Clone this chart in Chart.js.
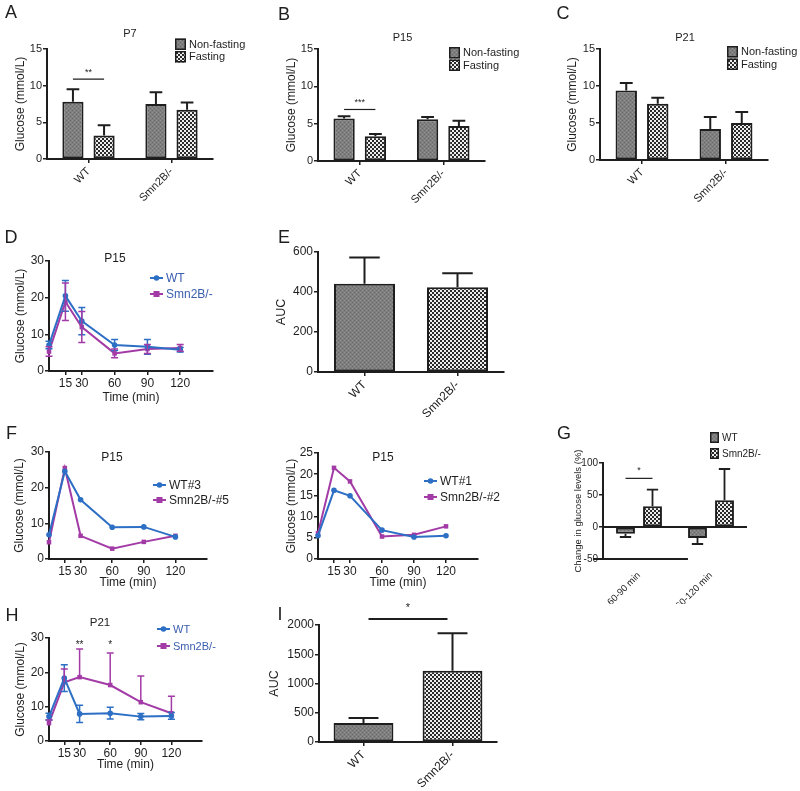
<!DOCTYPE html>
<html><head><meta charset="utf-8">
<script src="https://cdn.jsdelivr.net/npm/chart.js@4.4.1/dist/chart.umd.min.js"></script>
<style>
html,body{margin:0;padding:0;background:#fff;}
#wrap{position:relative;width:800px;height:791px;overflow:hidden;background:#fff;}
#wrap canvas{position:absolute;left:0;top:0;}
</style></head>
<body><div id="wrap"></div>
<script>
// ---------------- DATA ----------------
const groups = ['WT', 'Smn2B/-'];
const conditions = ['Non-fasting', 'Fasting'];
// A: P7
const p7NonFasting = [7.8, 7.5];
const p7NonFastingSem = [1.7, 1.6];
const p7Fasting = [3.2, 6.7];
const p7FastingSem = [1.4, 1.0];
const p7Sig = {y: 10.9, label: '**'};
// B: P15
const p15NonFasting = [5.7, 5.6];
const p15NonFastingSem = [0.3, 0.3];
const p15Fasting = [3.3, 4.7];
const p15FastingSem = [0.3, 0.7];
const p15Sig = {y: 6.9, label: '***'};
// C: P21
const p21NonFasting = [9.4, 4.2];
const p21NonFastingSem = [1.0, 1.6];
const p21Fasting = [7.6, 5.0];
const p21FastingSem = [0.8, 1.5];
// D: P15 GTT means
const timeMin = [0, 15, 30, 60, 90, 120];
const timeTicks = [15, 30, 60, 90, 120];
const gttP15WT = [7.1, 20.5, 13.6, 7.1, 6.6, 5.8];
const gttP15WTSem = [1.0, 4.2, 3.7, 1.5, 2.0, 0.6];
const gttP15Smn = [5.3, 18.9, 12.0, 4.8, 6.0, 6.3];
const gttP15SmnSem = [1.3, 5.1, 4.2, 1.2, 1.2, 0.9];
// E: AUC P15
const aucP15 = [441, 424];
const aucP15Sem = [132, 70];
// F: individual P15 animals
const gttWT3 = [6.8, 24.6, 16.6, 8.9, 9.0, 6.2];
const gttSmn5 = [4.7, 25.5, 6.5, 2.9, 4.8, 6.5];
const gttWT1 = [5.5, 16.2, 14.9, 6.8, 5.2, 5.5];
const gttSmn2 = [6.1, 21.5, 18.3, 5.3, 5.7, 7.7];
// G: change in glucose levels
const changeWindows = ['60-90 min', '60-120 min'];
const changeWT = [-10.4, -17.2];
const changeWTSem = [5.2, 9.4];
const changeSmn = [32.3, 41.7];
const changeSmnSem = [26.0, 48.9];
const changeSig = {y: 76, label: '*'};
// H: P21 GTT means
const gttP21WT = [7.1, 18.3, 7.9, 8.1, 7.1, 7.3];
const gttP21WTSem = [1.0, 3.9, 2.5, 1.7, 0.9, 1.0];
const gttP21Smn = [5.2, 17.1, 18.6, 16.3, 11.3, 8.1];
const gttP21SmnSem = [0.9, 3.9, 8.2, 9.3, 7.6, 4.9];
const gttP21Stars = [{t: 30, y: 28, label: '**'}, {t: 60, y: 28, label: '*'}];
// I: AUC P21
const aucP21 = [324, 1216];
const aucP21Sem = [85, 642];
const aucP21Sig = {y: 2102, label: '*'};

// ---------------- STYLE ----------------
const FONT = "'Liberation Sans', Arial, Helvetica, sans-serif";
Chart.defaults.font.family = FONT;
Chart.defaults.color = '#1e1e1e';
Chart.defaults.animation = false;
Chart.defaults.responsive = false;
Chart.defaults.plugins.legend.display = false;
Chart.defaults.plugins.tooltip.enabled = false;
const INK = '#1e1e1e';
const BLUE = '#2d6fc4';
const PURPLE = '#a33ba6';
const LEGBLUE = '#3a5eae';
const W_ = 800, H_ = 791;
const wrap = document.getElementById('wrap');

function newCtx() {
  const c = document.createElement('canvas');
  c.width = W_; c.height = H_;
  c.style.width = W_ + 'px'; c.style.height = H_ + 'px';
  wrap.appendChild(c);
  return c.getContext('2d');
}
function makePattern(ctx, kind) {
  const c = document.createElement('canvas');
  c.width = 4; c.height = 4;
  const g = c.getContext('2d');
  if (kind === 'check') {
    g.fillStyle = '#eeeeee'; g.fillRect(0, 0, 4, 4);
    g.fillStyle = '#2a2a2a'; g.fillRect(0, 0, 2, 2); g.fillRect(2, 2, 2, 2);
  } else {
    g.fillStyle = '#7e7e7e'; g.fillRect(0, 0, 4, 4);
    g.fillStyle = '#939393'; g.fillRect(0, 0, 1, 1); g.fillRect(2, 2, 1, 1);
    g.fillStyle = '#6a6a6a'; g.fillRect(2, 0, 1, 1); g.fillRect(0, 2, 1, 1);
  }
  return ctx.createPattern(c, 'repeat');
}
function layoutFor(area, titleCx, tsize, xH) {
  const left = titleCx - tsize * 1.2 / 2;
  return {padding: {left: left, top: area.t, right: W_ - area.r, bottom: H_ - area.b - xH}, W: area.l - left};
}
function yScale(o) {
  return {
    min: o.min, max: o.max,
    ticks: {stepSize: o.step, font: {size: o.tick || 11}, padding: 1, color: INK, callback: v => String(v)},
    grid: {display: true, drawOnChartArea: false, tickLength: 4, color: INK, lineWidth: 1.5},
    border: {display: true, color: INK, width: 2},
    title: {display: true, text: o.title, font: {size: o.tsize || 12}, padding: 0, color: INK},
    afterFit: s => { s.width = o.W; }
  };
}
function catScale(o) {
  return {
    offset: true,
    ticks: {font: {size: o.tick || 11}, padding: o.pad == null ? 2 : o.pad, color: INK, minRotation: 45, maxRotation: 45, autoSkip: false},
    grid: {display: o.grid !== false, drawOnChartArea: false, offset: false, tickLength: 4, color: INK, lineWidth: 1.5},
    border: {display: o.border !== false, color: INK, width: 2},
    afterFit: s => { s.height = o.H; }
  };
}
function timeScale(xH) {
  return {
    type: 'linear', min: 0, max: 150,
    afterBuildTicks: s => { s.ticks = timeTicks.map(v => ({value: v})); },
    ticks: {font: {size: 12}, padding: 1, color: INK, maxRotation: 0, autoSkip: false, callback: v => String(v)},
    grid: {display: true, drawOnChartArea: false, tickLength: 4, color: INK, lineWidth: 1.5},
    border: {display: true, color: INK, width: 2},
    title: {display: true, text: 'Time (min)', font: {size: 12}, padding: 0, color: INK},
    afterFit: s => { s.height = xH; }
  };
}
function text(ctx, t, x, y, size, color, align) {
  ctx.save();
  ctx.font = size + 'px ' + FONT;
  ctx.fillStyle = color || INK;
  ctx.textAlign = align || 'center';
  ctx.textBaseline = 'middle';
  ctx.fillText(t, x, y);
  ctx.restore();
}
function barLegend(ctx, x, y, bw, bh, gap, size, items) {
  items.forEach((it, i) => {
    const yy = y + i * (bh + gap);
    ctx.save();
    ctx.fillStyle = it.fill; ctx.fillRect(x, yy, bw, bh);
    ctx.strokeStyle = INK; ctx.lineWidth = 1.5; ctx.strokeRect(x + 0.75, yy + 0.75, bw - 1.5, bh - 1.5);
    ctx.restore();
    text(ctx, it.label, x + bw + 3, yy + bh / 2 + 0.5, size, INK, 'left');
  });
}
function lineLegend(ctx, x, y, len, dy, size, tcolor, items) {
  items.forEach((it, i) => {
    const yy = y + i * dy;
    ctx.save();
    ctx.strokeStyle = it.color; ctx.fillStyle = it.color; ctx.lineWidth = 2;
    ctx.beginPath(); ctx.moveTo(x, yy); ctx.lineTo(x + len, yy); ctx.stroke();
    const cx = x + len / 2;
    if (it.style === 'rect') ctx.fillRect(cx - 3, yy - 3, 6, 6);
    else { ctx.beginPath(); ctx.arc(cx, yy, 2.8, 0, Math.PI * 2); ctx.fill(); }
    ctx.restore();
    text(ctx, it.label, x + len + 3, yy + 0.5, size, tcolor, 'left');
  });
}
function barErrors(ctx, chart, dsi, errs, capFrac, lw) {
  const meta = chart.getDatasetMeta(dsi);
  const ys = chart.scales.y;
  const vals = chart.data.datasets[dsi].data;
  ctx.save();
  ctx.strokeStyle = INK; ctx.lineWidth = lw || 2;
  meta.data.forEach((bar, i) => {
    const v = vals[i], e = errs[i];
    const end = v + (v < 0 ? -e : e);
    const y0 = ys.getPixelForValue(v), y1 = ys.getPixelForValue(end);
    const cap = bar.width * capFrac / 2;
    ctx.beginPath();
    ctx.moveTo(bar.x, y0); ctx.lineTo(bar.x, y1);
    ctx.moveTo(bar.x - cap, y1); ctx.lineTo(bar.x + cap, y1);
    ctx.stroke();
  });
  ctx.restore();
}
function lineErrors(ctx, chart, dsi, errs, mode, color, cap) {
  const meta = chart.getDatasetMeta(dsi);
  const ys = chart.scales.y;
  const pts = chart.data.datasets[dsi].data;
  ctx.save();
  ctx.strokeStyle = color; ctx.lineWidth = 1.5;
  meta.data.forEach((p, i) => {
    const v = pts[i].y, e = errs[i];
    const yT = ys.getPixelForValue(v + e);
    const yB = ys.getPixelForValue(mode === 'up' ? v : v - e);
    ctx.beginPath();
    ctx.moveTo(p.x, yT); ctx.lineTo(p.x, yB);
    ctx.moveTo(p.x - cap, yT); ctx.lineTo(p.x + cap, yT);
    if (mode !== 'up') { ctx.moveTo(p.x - cap, yB); ctx.lineTo(p.x + cap, yB); }
    ctx.stroke();
  });
  ctx.restore();
}
function sigLine(ctx, chart, a, b, sig, lw, starOff, starSize, inset) {
  const xa = chart.getDatasetMeta(a[0]).data[a[1]].x + (inset || 0);
  const xb = chart.getDatasetMeta(b[0]).data[b[1]].x - (inset || 0);
  const y = chart.scales.y.getPixelForValue(sig.y);
  ctx.save();
  ctx.strokeStyle = INK; ctx.lineWidth = lw;
  ctx.beginPath(); ctx.moveTo(xa, y); ctx.lineTo(xb, y); ctx.stroke();
  ctx.restore();
  text(ctx, sig.label, (xa + xb) / 2, y - starOff, starSize, INK);
}
function deco(draw) {
  return [{id: 'deco', afterDatasetsDraw(chart) { const ctx = chart.ctx; ctx.save(); draw(ctx, chart); ctx.restore(); }}];
}
function series(label, ys, color, style) {
  return {
    label: label,
    data: timeMin.map((t, i) => ({x: t, y: ys[i]})),
    borderColor: color, backgroundColor: color,
    pointBackgroundColor: color, pointBorderColor: color,
    pointStyle: style, pointRadius: style === 'rect' ? 3.2 : 2.8, pointBorderWidth: 0,
    borderWidth: 2, clip: false, tension: 0
  };
}

// ---------------- PANEL A/B/C: fasting bars ----------------
function fastingPanel(area, titleCx, nf, nfSem, f, fSem, title, titlePos, letter, letterPos, legPos, sig) {
  const ctx = newCtx();
  const gray = makePattern(ctx, 'gray'), check = makePattern(ctx, 'check');
  const L = layoutFor(area, titleCx, 12, 45);
  new Chart(ctx, {
    type: 'bar',
    data: {
      labels: groups,
      datasets: [
        {label: conditions[0], data: nf, backgroundColor: gray, borderColor: INK, borderWidth: 2, borderSkipped: false, categoryPercentage: 0.75, barPercentage: 0.68},
        {label: conditions[1], data: f, backgroundColor: check, borderColor: INK, borderWidth: 2, borderSkipped: false, categoryPercentage: 0.75, barPercentage: 0.68}
      ]
    },
    options: {
      layout: {padding: L.padding},
      scales: {
        x: catScale({H: 45, tick: 11}),
        y: yScale({min: 0, max: 15, step: 5, title: 'Glucose (mmol/L)', W: L.W, tick: 11, tsize: 12})
      }
    },
    plugins: deco((c, chart) => {
      barErrors(c, chart, 0, nfSem, 0.6, 2);
      barErrors(c, chart, 1, fSem, 0.6, 2);
      if (sig) sigLine(c, chart, [0, 0], [1, 0], sig, 1.2, 7, 9);
      text(c, title, titlePos[0], titlePos[1], 11, INK);
      text(c, letter, letterPos[0], letterPos[1], 18, INK);
      barLegend(c, legPos[0], legPos[1], 11, 11.5, 1, 11, [{fill: gray, label: conditions[0]}, {fill: check, label: conditions[1]}]);
    })
  });
}
fastingPanel({l: 47, t: 49, r: 213, b: 159}, 20.5, p7NonFasting, p7NonFastingSem, p7Fasting, p7FastingSem,
  'P7', [130, 33.5], 'A', [11, 13.5], [175, 38.5], p7Sig);
fastingPanel({l: 318, t: 49, r: 485, b: 161}, 292, p15NonFasting, p15NonFastingSem, p15Fasting, p15FastingSem,
  'P15', [402.5, 37.5], 'B', [284, 15], [449, 47], p15Sig);
fastingPanel({l: 600, t: 49, r: 768, b: 160}, 573, p21NonFasting, p21NonFastingSem, p21Fasting, p21FastingSem,
  'P21', [685, 37.5], 'C', [563, 14.5], [727, 46], null);

// ---------------- GTT line panels ----------------
function gttPanel(o) {
  const ctx = newCtx();
  const xH = o.xH || 31.2;
  const L = layoutFor(o.area, o.titleCx, 12, xH);
  new Chart(ctx, {
    type: 'line',
    data: {datasets: [series(o.names[0], o.wt, BLUE, 'circle'), series(o.names[1], o.smn, PURPLE, 'rect')]},
    options: {
      layout: {padding: L.padding},
      scales: {
        x: timeScale(xH),
        y: yScale({min: 0, max: o.ymax, step: o.ystep, title: 'Glucose (mmol/L)', W: L.W, tick: 12, tsize: 12})
      }
    },
    plugins: deco((c, chart) => {
      if (o.wtSem) lineErrors(c, chart, 0, o.wtSem, 'both', BLUE, 3.5);
      if (o.smnSem) lineErrors(c, chart, 1, o.smnSem, o.smnMode || 'both', PURPLE, 3.5);
      if (o.stars) o.stars.forEach(s => text(c, s.label, chart.scales.x.getPixelForValue(s.t), chart.scales.y.getPixelForValue(s.y), 10, INK));
      text(c, o.title, o.titlePos[0], o.titlePos[1], o.titleSize || 12, INK);
      if (o.letter) text(c, o.letter, o.letterPos[0], o.letterPos[1], 18, INK);
      lineLegend(c, o.leg[0], o.leg[1], 13, o.leg[2], o.legSize, o.legColor,
        [{color: BLUE, style: 'circle', label: o.names[0]}, {color: PURPLE, style: 'rect', label: o.names[1]}]);
    })
  });
}
gttPanel({area: {l: 49, t: 261, r: 213, b: 371}, titleCx: 20.5, ymax: 30, ystep: 10, xH: 34,
  wt: gttP15WT, smn: gttP15Smn, wtSem: gttP15WTSem, smnSem: gttP15SmnSem, names: ['WT', 'Smn2B/-'],
  title: 'P15', titlePos: [115, 259], letter: 'D', letterPos: [11, 238.5],
  leg: [150, 278, 16], legSize: 12, legColor: LEGBLUE});
gttPanel({area: {l: 49, t: 452, r: 207, b: 559}, titleCx: 20, ymax: 30, ystep: 10,
  wt: gttWT3, smn: gttSmn5, names: ['WT#3', 'Smn2B/-#5'],
  title: 'P15', titlePos: [112, 457.5], letter: 'F', letterPos: [11.5, 434],
  leg: [153, 485, 15], legSize: 12, legColor: INK});
gttPanel({area: {l: 318, t: 453, r: 478, b: 559}, titleCx: 292, ymax: 25, ystep: 5,
  wt: gttWT1, smn: gttSmn2, names: ['WT#1', 'Smn2B/-#2'],
  title: 'P15', titlePos: [383, 457.5],
  leg: [424, 481, 16], legSize: 12, legColor: INK});
gttPanel({area: {l: 49, t: 638, r: 202, b: 741}, titleCx: 21, ymax: 30, ystep: 10,
  wt: gttP21WT, smn: gttP21Smn, wtSem: gttP21WTSem, smnSem: gttP21SmnSem, smnMode: 'up', names: ['WT', 'Smn2B/-'],
  stars: gttP21Stars,
  title: 'P21', titlePos: [100, 623], titleSize: 11.5, letter: 'H', letterPos: [12, 616],
  leg: [157, 629, 17], legSize: 11, legColor: LEGBLUE});

// ---------------- AUC panels ----------------
function aucPanel(o) {
  const ctx = newCtx();
  const gray = makePattern(ctx, 'gray'), check = makePattern(ctx, 'check');
  const L = layoutFor(o.area, o.titleCx, 12.5, o.xH);
  new Chart(ctx, {
    type: 'bar',
    data: {labels: groups, datasets: [{label: 'AUC', data: o.vals, backgroundColor: [gray, check], borderColor: INK, borderWidth: 2, borderSkipped: false, categoryPercentage: 0.82, barPercentage: o.bp}]},
    options: {
      layout: {padding: L.padding},
      scales: {
        x: catScale({H: o.xH, tick: 12}),
        y: yScale({min: 0, max: o.ymax, step: o.ystep, title: 'AUC', W: L.W, tick: 12, tsize: 12.5})
      }
    },
    plugins: deco((c, chart) => {
      barErrors(c, chart, 0, o.sem, 0.5, 2);
      if (o.sig) sigLine(c, chart, [0, 0], [0, 1], o.sig, 2, 11, 11, 5);
      text(c, o.letter, o.letterPos[0], o.letterPos[1], 18, INK);
    })
  });
}
aucPanel({area: {l: 318, t: 252, r: 504, b: 372}, titleCx: 282, xH: 45, vals: aucP15, sem: aucP15Sem, ymax: 600, ystep: 200, bp: 0.8,
  letter: 'E', letterPos: [284, 238]});
aucPanel({area: {l: 319, t: 625, r: 497, b: 742}, titleCx: 274.5, xH: 48, vals: aucP21, sem: aucP21Sem, ymax: 2000, ystep: 500, bp: 0.82,
  sig: aucP21Sig, letter: 'I', letterPos: [280, 615]});

// ---------------- PANEL G ----------------
(function () {
  const ctx = newCtx();
  const gray = makePattern(ctx, 'gray'), check = makePattern(ctx, 'check');
  const area = {l: 603, t: 463, r: 747, b: 559};
  const L = layoutFor(area, 578, 9.5, 45);
  new Chart(ctx, {
    type: 'bar',
    data: {
      labels: changeWindows,
      datasets: [
        {label: 'WT', data: changeWT, backgroundColor: gray, borderColor: INK, borderWidth: 2, borderSkipped: false, categoryPercentage: 0.75, barPercentage: 0.7},
        {label: 'Smn2B/-', data: changeSmn, backgroundColor: check, borderColor: INK, borderWidth: 2, borderSkipped: false, categoryPercentage: 0.75, barPercentage: 0.7}
      ]
    },
    options: {
      layout: {padding: L.padding},
      scales: {
        x: catScale({H: 45, tick: 9.5, grid: false, border: false, pad: 7}),
        y: yScale({min: -50, max: 100, step: 50, title: 'Change in glucose levels (%)', W: L.W, tick: 10, tsize: 9.5})
      }
    },
    plugins: deco((c, chart) => {
      const xs = chart.scales.x, ys = chart.scales.y, ca = chart.chartArea;
      c.strokeStyle = INK; c.lineWidth = 2;
      const y0 = ys.getPixelForValue(0);
      c.beginPath(); c.moveTo(ca.left, y0); c.lineTo(ca.right, y0); c.stroke();
      const x0 = xs.getPixelForValue(0), x1 = xs.getPixelForValue(1);
      c.beginPath(); c.moveTo(ca.left - 10, ca.bottom); c.lineTo(x1 - 0.32 * (x1 - x0), ca.bottom); c.stroke();
      barErrors(c, chart, 0, changeWTSem, 0.6, 1.8);
      barErrors(c, chart, 1, changeSmnSem, 0.6, 1.8);
      sigLine(c, chart, [0, 0], [1, 0], changeSig, 1.2, 8, 9);
      text(c, 'G', 564, 434.5, 18, INK);
      barLegend(c, 710, 432, 9, 11, 5, 10, [{fill: gray, label: 'WT'}, {fill: check, label: 'Smn2B/-'}]);
    })
  });
})();
</script>
</body></html>
